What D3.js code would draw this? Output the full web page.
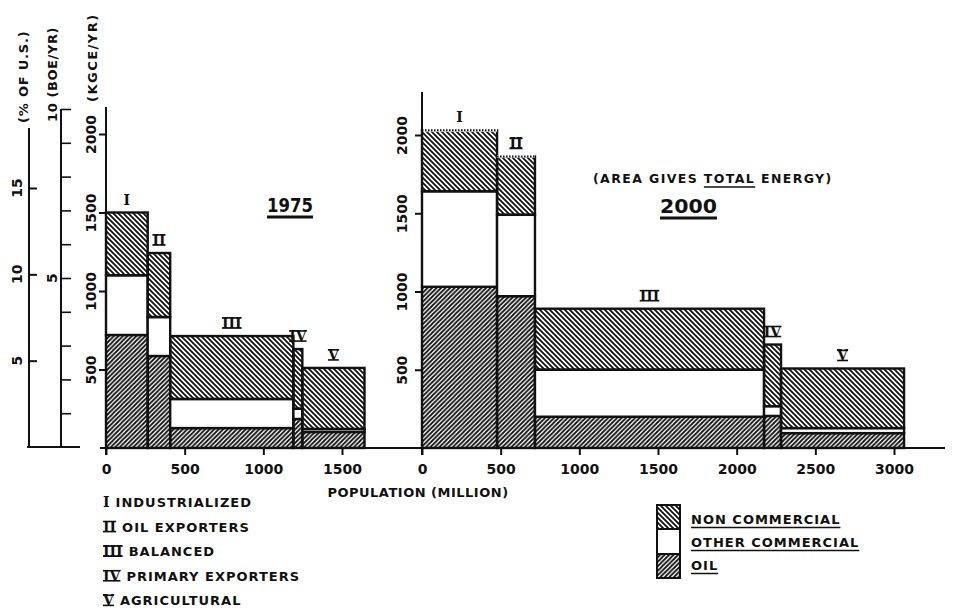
<!DOCTYPE html>
<html>
<head>
<meta charset="utf-8">
<script src="https://cdn.jsdelivr.net/npm/d3@7"></script>
<style>
body { margin: 0; background: #fff; }
text { font-family: "DejaVu Sans", sans-serif; font-weight: bold; fill: #111; }
.num { font-family: "DejaVu Serif", serif; }
</style>
</head>
<body>
<script>
// Values: energy per capita (KGCE/YR), population (million)
const groups = ["I", "II", "III", "IV", "V"];
const groupNames = ["INDUSTRIALIZED", "OIL EXPORTERS", "BALANCED", "PRIMARY EXPORTERS", "AGRICULTURAL"];

const pop1975 = [265, 143, 783, 57, 395];
const oil1975 = [720, 586, 127, 185, 102];
const otherCom1975 = [380, 248, 185, 65, 19];
const nonCom1975 = [400, 408, 401, 380, 389];

const pop2000 = [477, 241, 1456, 108, 782];
const oil2000 = [1030, 970, 200, 205, 95];
const otherCom2000 = [610, 520, 300, 62, 32];
const nonCom2000 = [390, 373, 390, 394, 381];
const roughTop2000 = [true, true, false, false, false];

const xTicks1975 = [0, 500, 1000, 1500];
const xTicks2000 = [0, 500, 1000, 1500, 2000, 2500, 3000];
const yTicks = [500, 1000, 1500, 2000];
const pctTicks = [5, 10, 15];
const boeTicks = [1, 2, 3, 4, 5, 6, 7, 8, 9, 10];

const legendKeys = ["non", "other", "oil"];
const legendNames = ["NON COMMERCIAL", "OTHER COMMERCIAL", "OIL"];

const width = 956, height = 613;
const svg = d3.select("body").append("svg").attr("width", width).attr("height", height);
svg.append("rect").attr("width", width).attr("height", height).attr("fill", "#fff");

// hatch patterns
const defs = svg.append("defs");
function hatch(id, s, d) {
  defs.append("pattern").attr("id", id)
    .attr("patternUnits", "userSpaceOnUse")
    .attr("width", s).attr("height", s)
    .append("path").attr("d", d)
    .attr("stroke", "#111").attr("stroke-width", 1.8);
}
const sN = 5, sO = 4.5;
hatch("hNon", sN, `M0,0L${sN},${sN}M-1,${sN - 1}L1,${sN + 1}M${sN - 1},-1L${sN + 1},1`);
hatch("hOil", sO, `M0,${sO}L${sO},0M-1,1L1,-1M${sO - 1},${sO + 1}L${sO + 1},${sO - 1}`);
const fills = { oil: "url(#hOil)", other: "#fff", non: "url(#hNon)" };

// roman numeral with bars above and below (lettering style)
function numeral(g, x, y, txt, size, anchor) {
  const t = g.append("text").attr("class", "num")
    .attr("x", x).attr("y", y)
    .attr("text-anchor", anchor || "middle")
    .style("font-size", size + "px").text(txt);
  const w = t.node().getComputedTextLength();
  const left = anchor === "start" ? x : x - w / 2;
  if (txt !== "I") {
    [y - size * 0.72, y].forEach(yy => {
      g.append("line").attr("x1", left).attr("x2", left + w)
        .attr("y1", yy).attr("y2", yy)
        .attr("stroke", "#111").attr("stroke-width", 1.6);
    });
  }
  return w;
}

function rotText(x, y, txt, size, anchor, spacing) {
  return svg.append("text")
    .attr("transform", `translate(${x},${y}) rotate(-90)`)
    .attr("text-anchor", anchor || "middle")
    .style("letter-spacing", (spacing || 0) + "px")
    .style("font-size", size + "px").text(txt);
}

function drawChart(cfg) {
  const { x, y, pop, oil, other, non, xTicks, axisTop, labelOffset, rough } = cfg;
  const g = svg.append("g");
  const starts = [0, ...d3.cumsum(pop)];
  const bars = groups.map((name, i) => ({
    name, i, x0: starts[i], x1: starts[i + 1],
    total: oil[i] + other[i] + non[i],
    segs: [
      { key: "oil", y0: 0, y1: oil[i] },
      { key: "other", y0: oil[i], y1: oil[i] + other[i] },
      { key: "non", y0: oil[i] + other[i], y1: oil[i] + other[i] + non[i] }
    ]
  }));

  const bar = g.selectAll(".bar").data(bars).join("g").attr("class", "bar");
  bar.selectAll("rect")
    .data(d => d.segs.map(s => ({ ...s, x0: d.x0, x1: d.x1 })))
    .join("rect")
    .attr("x", d => x(d.x0))
    .attr("width", d => x(d.x1) - x(d.x0))
    .attr("y", d => y(d.y1))
    .attr("height", d => y(d.y0) - y(d.y1))
    .attr("fill", d => fills[d.key])
    .attr("stroke", "#111")
    .attr("stroke-width", 2.4);

  // uncertain tops drawn dotted
  if (rough) {
    bars.filter(d => rough[d.i]).forEach(d => {
      g.append("line").attr("x1", x(d.x0)).attr("x2", x(d.x1))
        .attr("y1", y(d.total)).attr("y2", y(d.total))
        .attr("stroke", "#fff").attr("stroke-width", 2.8);
      g.append("line").attr("x1", x(d.x0)).attr("x2", x(d.x1))
        .attr("y1", y(d.total)).attr("y2", y(d.total))
        .attr("stroke", "#111").attr("stroke-width", 2)
        .attr("stroke-dasharray", "1.5,1.5");
    });
  }

  bars.forEach(d => {
    numeral(g, (x(d.x0) + x(d.x1)) / 2, y(d.total) - 8, d.name, 14);
  });

  // y axis
  g.append("line").attr("x1", x(0)).attr("x2", x(0))
    .attr("y1", y(0) + 7).attr("y2", axisTop)
    .attr("stroke", "#111").attr("stroke-width", 2);
  const ya = g.append("g").attr("transform", `translate(${x(0)},0)`)
    .call(d3.axisLeft(y).tickValues(yTicks).tickSize(7).tickSizeOuter(0).tickFormat(d3.format("d")));
  ya.select(".domain").remove();
  ya.selectAll("line").attr("stroke", "#111").attr("stroke-width", 2);
  ya.selectAll("text")
    .attr("transform", "rotate(-90)")
    .attr("x", 0).attr("y", labelOffset).attr("dy", 0)
    .attr("text-anchor", "middle")
    .style("font-size", "14px").style("font-family", "DejaVu Sans").style("font-weight", "bold");

  // x axis
  const xa = g.append("g").attr("transform", `translate(0,${y(0)})`)
    .call(d3.axisBottom(x).tickValues(xTicks).tickSize(7).tickSizeOuter(0).tickFormat(d3.format("d")));
  xa.select(".domain").remove();
  xa.selectAll("line").attr("stroke", "#111").attr("stroke-width", 2);
  xa.selectAll("text").attr("y", 26).attr("dy", 0)
    .style("font-size", "14px").style("font-family", "DejaVu Sans").style("font-weight", "bold");
}

const x1975 = d3.scaleLinear().domain([0, 1500]).range([106, 342]);
const y1975 = d3.scaleLinear().domain([0, 2000]).range([448, 134]);
const x2000 = d3.scaleLinear().domain([0, 3000]).range([422, 894]);
const y2000 = d3.scaleLinear().domain([0, 2000]).range([448, 135]);

// common baseline
svg.append("line").attr("x1", 100).attr("x2", 945)
  .attr("y1", 448).attr("y2", 448).attr("stroke", "#111").attr("stroke-width", 2);

drawChart({ x: x1975, y: y1975, pop: pop1975, oil: oil1975, other: otherCom1975, non: nonCom1975,
  xTicks: xTicks1975, axisTop: 107, labelOffset: -10 });
drawChart({ x: x2000, y: y2000, pop: pop2000, oil: oil2000, other: otherCom2000, non: nonCom2000,
  xTicks: xTicks2000, axisTop: 92, labelOffset: -15, rough: roughTop2000 });

// auxiliary left scales: % of U.S. and BOE/YR
const pct = d3.scaleLinear().domain([0, 15]).range([447, 188]);
const boe = d3.scaleLinear().domain([0, 10]).range([447, 109]);
svg.append("line").attr("x1", 29).attr("x2", 29).attr("y1", 447).attr("y2", 128)
  .attr("stroke", "#111").attr("stroke-width", 2);
svg.append("line").attr("x1", 61).attr("x2", 61).attr("y1", 447).attr("y2", 109)
  .attr("stroke", "#111").attr("stroke-width", 2);
svg.append("line").attr("x1", 27).attr("x2", 80).attr("y1", 447).attr("y2", 447)
  .attr("stroke", "#111").attr("stroke-width", 2);

const pa = svg.append("g").attr("transform", "translate(29,0)")
  .call(d3.axisRight(pct).tickValues(pctTicks).tickSize(8).tickFormat(""));
pa.select(".domain").remove();
pa.selectAll("line").attr("stroke", "#111").attr("stroke-width", 2);
pctTicks.forEach(v => rotText(22, pct(v), String(v), 14));

const ba = svg.append("g").attr("transform", "translate(61,0)")
  .call(d3.axisRight(boe).tickValues(boeTicks).tickSize(10).tickFormat(""));
ba.select(".domain").remove();
ba.selectAll("line").attr("stroke", "#111").attr("stroke-width", 1.6);
rotText(57, boe(5), "5", 14);
rotText(57, 122, "10 (BOE/YR)", 13, "start", 0.6);

rotText(28, 123, "(% OF U.S.)", 13, "start", 0.8);
rotText(97, 102, "(KGCE/YR)", 13, "start", 1.5);

// axis title
svg.append("text").attr("x", 418).attr("y", 497).attr("text-anchor", "middle")
  .style("font-size", "13px").style("letter-spacing", "0.5px").text("POPULATION (MILLION)");

// year titles
function underlined(x, y, txt, size, w, th) {
  svg.append("text").attr("x", x).attr("y", y)
    .attr("textLength", w).attr("lengthAdjust", "spacingAndGlyphs")
    .style("font-size", size + "px").text(txt);
  svg.append("line").attr("x1", x).attr("x2", x + w).attr("y1", y + 5).attr("y2", y + 5)
    .attr("stroke", "#111").attr("stroke-width", th);
}
underlined(267, 212, "1975", 20, 46, 3);
underlined(660, 213, "2000", 20, 57, 3);

const note = svg.append("text").attr("x", 593).attr("y", 183)
  .style("font-size", "12.5px").style("letter-spacing", "1.4px")
  .text("(AREA GIVES TOTAL ENERGY)");
{
  const n = note.node();
  const s = n.getStartPositionOfChar(12).x, e = n.getEndPositionOfChar(16).x;
  svg.append("line").attr("x1", s).attr("x2", e).attr("y1", 187).attr("y2", 187)
    .attr("stroke", "#111").attr("stroke-width", 1.5);
}

// group legend
groups.forEach((name, i) => {
  const yy = 507 + i * 24.6;
  const w = numeral(svg, 103, yy, name, 14, "start");
  svg.append("text").attr("x", 103 + w + 6).attr("y", yy)
    .style("font-size", "13px").style("letter-spacing", "1px").text(groupNames[i]);
});

// pattern legend
const cellY = [505, 529, 554, 578];
legendKeys.forEach((k, i) => {
  svg.append("rect").attr("x", 657).attr("y", cellY[i])
    .attr("width", 23).attr("height", cellY[i + 1] - cellY[i])
    .attr("fill", fills[k]).attr("stroke", "#111").attr("stroke-width", 2);
  const yy = 524 + i * 23;
  const t = svg.append("text").attr("x", 691).attr("y", yy)
    .style("font-size", "13px").style("letter-spacing", "1px").text(legendNames[i]);
  const w = t.node().getComputedTextLength();
  svg.append("line").attr("x1", 691).attr("x2", 691 + w).attr("y1", yy + 3.5).attr("y2", yy + 3.5)
    .attr("stroke", "#111").attr("stroke-width", 1.5);
});
</script>
</body>
</html>
